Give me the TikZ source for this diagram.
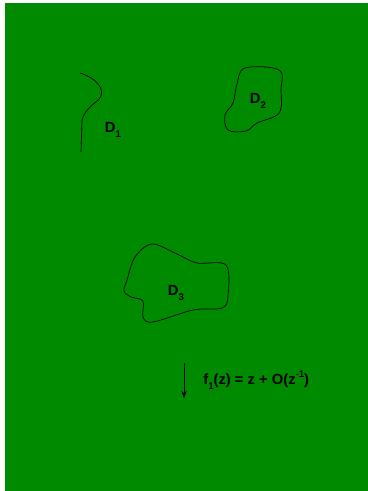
\documentclass[tikz,border=0pt]{standalone}
\usepackage{fontspec}
\setmainfont{Liberation Sans}
\usetikzlibrary{arrows.meta}
\definecolor{fieldgreen}{RGB}{0,138,0}
\newcommand{\lowsub}[1]{\raisebox{-0.65ex}{\fontsize{5.5}{6}\selectfont #1}}
\newcommand{\highsup}[1]{\raisebox{0.9ex}{\fontsize{5.5}{6}\selectfont #1}}

\begin{document}
\begin{tikzpicture}[x=0.02cm,y=-0.02cm]
  \tikzstyle{region}=[thin,line join=round]
  \tikzstyle{dlabel}=[font=\bfseries\fontsize{8.4}{9}\selectfont,inner sep=0pt]
  \useasboundingbox (0,0) rectangle (368,491);
  \fill[fieldgreen] (5,3) rectangle (368,491);
  % slit D_1
  \draw[region] (80,73) .. controls (96,78) and (104,88) .. (101,96)
     .. controls (99,102) and (86,106) .. (82,120) -- (81,152);
  % D_2
  \draw[region] plot[smooth cycle,tension=0.6] coordinates
     {(245,68) (279,70) (281,90) (279,113) (257,123) (246,131)
      (228,130) (225,115) (233,103) (237,84)};
  % D_3
  \draw[region] plot[smooth cycle,tension=0.55] coordinates
     {(152,244) (135,257) (127,280) (124,291) (131,297) (143,301)
      (143,317) (153,322) (193,310) (222,308) (228,296) (226,265)
      (197,263) (177,254)};
  \node[dlabel] (d1) at (113,130) {D\lowsub{1}};
  \node[dlabel] (d2) at (258,101) {D\lowsub{2}};
  \node[dlabel] (d3) at (176,293) {D\lowsub{3}};
  \node[dlabel,anchor=west] (map) at (203,380) {f\lowsub{1}(z) = z + O(z\highsup{-1})};
  \coordinate (top) at (184,363);
  \coordinate (bot) at (184,398);
  \draw[-{Stealth[length=4pt,width=3pt]}] (top) -- (bot);
\end{tikzpicture}
\end{document}
